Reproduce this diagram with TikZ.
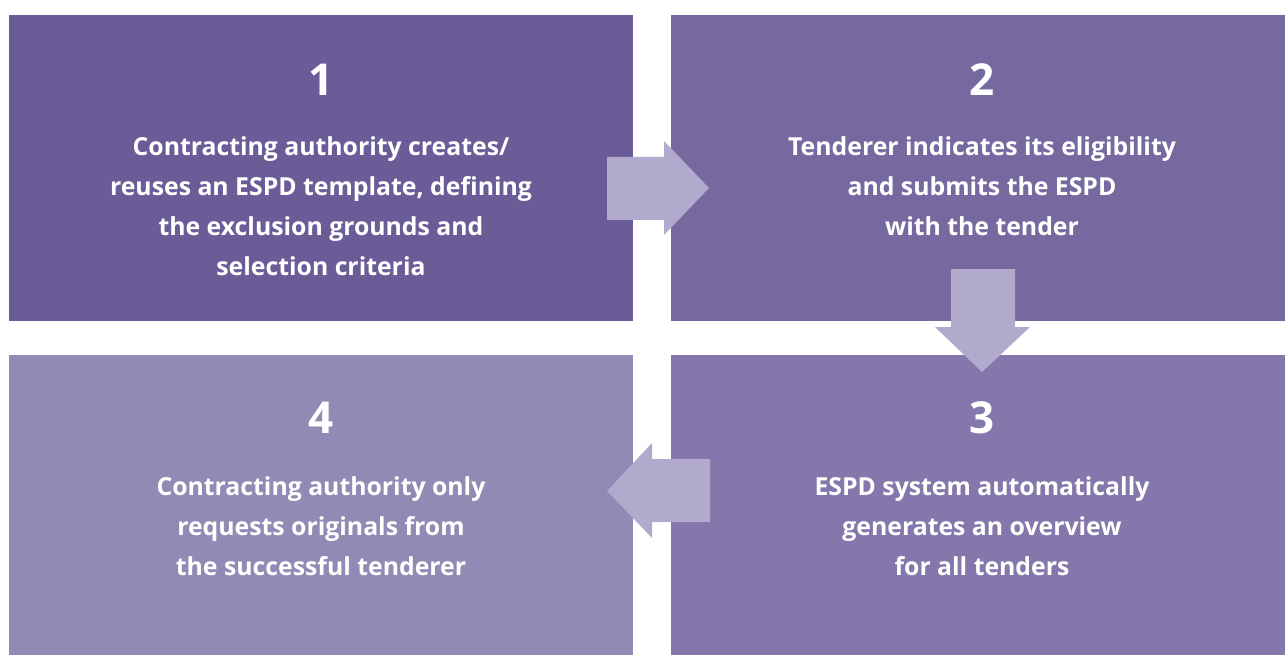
\documentclass[tikz,border=0pt]{standalone}
\usepackage{fontspec}
\setmainfont{Open Sans}
\definecolor{cA}{HTML}{6A5C97}
\definecolor{cB}{HTML}{7569A0}
\definecolor{cC}{HTML}{8477AB}
\definecolor{cD}{HTML}{9389B5}
\definecolor{cArr}{HTML}{B1AACC}
\tikzset{
  box/.style={fill=#1, draw=none},
  num/.style={text=white, font=\fontsize{44}{44}\selectfont\bfseries, anchor=center},
  txt/.style={text=white, font=\fontsize{24.8}{40}\selectfont\bfseries, align=center, anchor=north},
  blockarrow/.style={fill=cArr, draw=none}
}
\begin{document}
\begin{tikzpicture}[x=1pt,y=-1pt]
\useasboundingbox[fill=white] (0,0) rectangle (1285,655);
\fill[box=cA] (9,15) rectangle (633,321);
\fill[box=cB] (671,15) rectangle (1285,321);
\fill[box=cD] (9,355) rectangle (633,655);
\fill[box=cC] (671,355) rectangle (1285,655);
% arrows
\fill[blockarrow] (607,157) -- (664,157) -- (664,141) -- (709,188) -- (664,235) -- (664,220) -- (607,220) -- cycle;
\fill[blockarrow] (951,269) -- (1015,269) -- (1015,327) -- (1030,327) -- (982,372) -- (935,327) -- (951,327) -- cycle;
\fill[blockarrow] (710,459) -- (652,459) -- (652,443) -- (607,491) -- (652,538) -- (652,522) -- (710,522) -- cycle;
% texts
\node[num] (n1) at (321,80) {1};
\node[txt] (t1) at (321,133) {Contracting authority creates/\\reuses an ESPD template, defining\\the exclusion grounds and\\selection criteria};
\node[num] (n2) at (982,80) {2};
\node[txt] (t2) at (982,133) {Tenderer indicates its eligibility\\and submits the ESPD\\with the tender};
\node[num] (n3) at (982,418) {3};
\node[txt] (t3) at (982,473) {ESPD system automatically\\generates an overview\\for all tenders};
\node[num] (n4) at (321,418) {4};
\node[txt] (t4) at (321,473) {Contracting authority only\\requests originals from\\the successful tenderer};
\end{tikzpicture}
\end{document}
